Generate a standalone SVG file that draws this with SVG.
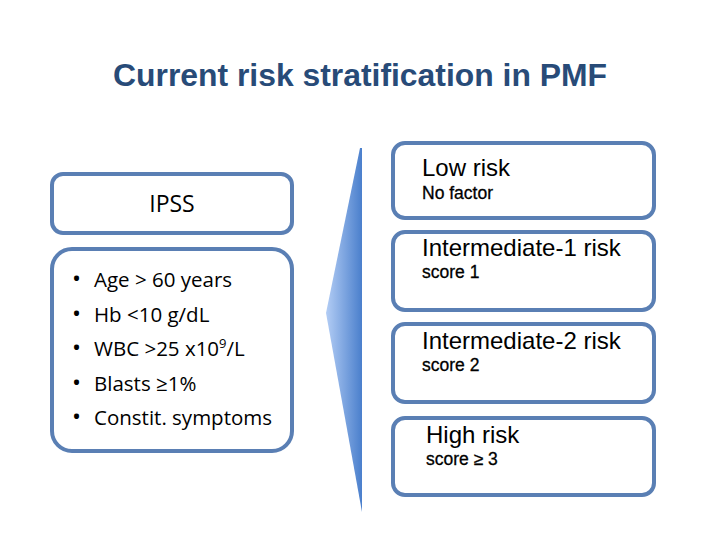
<svg xmlns="http://www.w3.org/2000/svg" width="720" height="540" viewBox="0 0 720 540">
<defs>
<linearGradient id="wg" x1="0" y1="0" x2="1" y2="0">
<stop offset="0" stop-color="#b3cdf5"/>
<stop offset="1" stop-color="#4a7fcc"/>
</linearGradient>
<style>
.box{fill:#fff;stroke:#5a7fb4;stroke-width:4}
.h{font-family:"Liberation Sans",Arial,sans-serif;font-size:24px;fill:#000}
.s{font-family:"Liberation Sans",Arial,sans-serif;font-size:17.5px;fill:#000;stroke:#000;stroke-width:0.3}
.c{font-family:"Open Sans","Noto Sans",sans-serif;fill:#000}
</style>
</defs>
<rect width="720" height="540" fill="#fff"/>
<text x="360" y="86" text-anchor="middle" font-family="Liberation Sans,Arial,sans-serif" font-weight="bold" font-size="31" textLength="494" lengthAdjust="spacingAndGlyphs" fill="#284b78">Current risk stratification in PMF</text>
<g id="wedge"><polygon points="360,148 326,313 362,512 362,148" fill="url(#wg)"/></g>
<g id="ipss"><rect class="box" x="52" y="174" width="240" height="59" rx="11"/>
<text class="c" x="172" y="212" font-size="23" text-anchor="middle">IPSS</text></g>
<g id="factors"><rect class="box" x="52" y="249" width="240" height="202" rx="20"/>
<g class="c" font-size="20.5">
<text x="72" y="287" font-size="24">•</text><text x="94" y="287">Age &gt; 60 years</text>
<text x="72" y="322" font-size="24">•</text><text x="94" y="322">Hb &lt;10 g/dL</text>
<text x="72" y="356" font-size="24">•</text><text x="94" y="356">WBC &gt;25 x10<tspan font-size="13" dy="-8">9</tspan><tspan dy="8">/L</tspan></text>
<text x="72" y="391" font-size="24">•</text><text x="94" y="391">Blasts ≥1%</text>
<text x="72" y="425" font-size="24">•</text><text x="94" y="425">Constit. symptoms</text>
</g></g>
<g id="low"><rect class="box" x="393" y="143" width="261" height="75" rx="12"/>
<text class="h" x="422" y="176">Low risk</text><text class="s" x="422" y="199">No factor</text></g>
<g id="int1"><rect class="box" x="393" y="232" width="261" height="78" rx="12"/>
<text class="h" x="422" y="256">Intermediate-1 risk</text><text class="s" x="422" y="278">score 1</text></g>
<g id="int2"><rect class="box" x="393" y="324" width="261" height="78" rx="12"/>
<text class="h" x="422" y="349">Intermediate-2 risk</text><text class="s" x="422" y="371">score 2</text></g>
<g id="high"><rect class="box" x="393" y="418" width="261" height="77" rx="12"/>
<text class="h" x="426" y="443">High risk</text><text class="s" x="426" y="465">score ≥ 3</text></g>
<g id="connectors"/>
</svg>
